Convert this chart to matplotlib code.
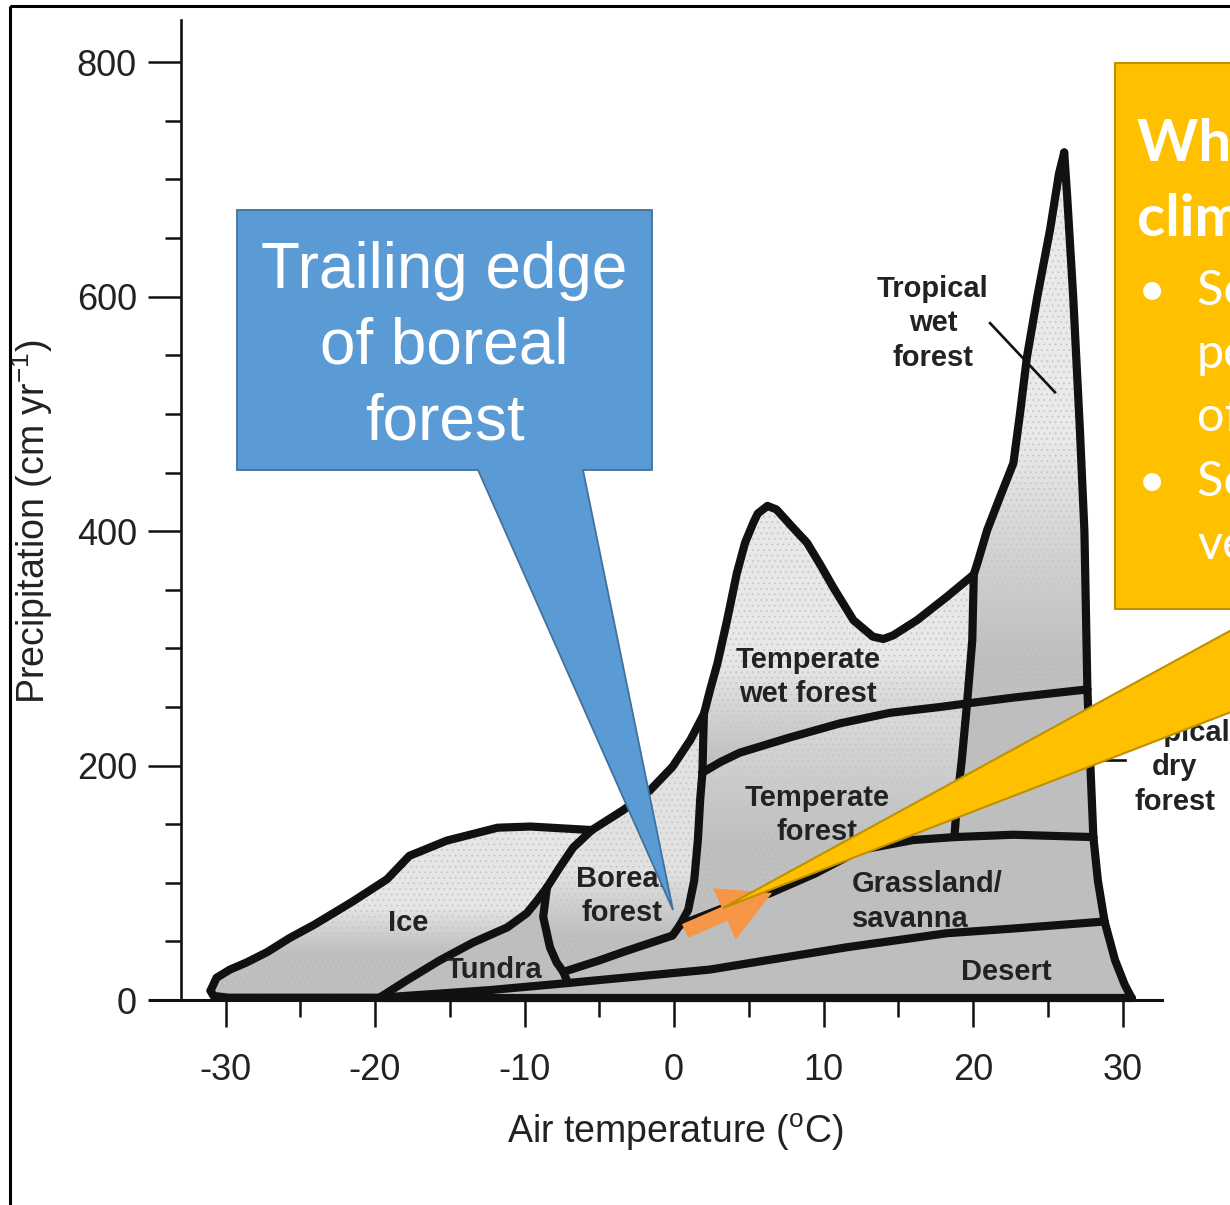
import numpy as np
import matplotlib
matplotlib.use("Agg")
import matplotlib.pyplot as plt
import matplotlib.transforms as mtransforms
from matplotlib.patches import Polygon, Rectangle, FancyArrow
from matplotlib.colors import LinearSegmentedColormap
from matplotlib.ticker import FixedLocator, MultipleLocator

plt.rcParams['font.family'] = ['Liberation Sans', 'DejaVu Sans']
plt.rcParams['mathtext.fontset'] = 'custom'
plt.rcParams['mathtext.rm'] = 'Liberation Sans'
plt.rcParams['mathtext.it'] = 'Liberation Sans:italic'
plt.rcParams['mathtext.bf'] = 'Liberation Sans:bold'
plt.rcParams['axes.unicode_minus'] = False
plt.rcParams['hatch.linewidth'] = 0.6

# ---------------- data: biome boundary lines (air temperature degC, precipitation cm/yr) -------------
ICE_BOTTOM = [(-19.7, 2), (-29.8, 2), (-30.8, 3.5), (-31.0, 8)]
ICE_TOP = [(-31.0, 8), (-30.6, 19), (-29.7, 26), (-28.6, 32), (-27.2, 41), (-25.7, 53), (-24.1, 64),
           (-21.5, 84), (-19.2, 103), (-17.7, 123), (-15.2, 136), (-11.8, 147), (-9.6, 148), (-5.5, 145)]
BOREAL_TOP = [(-5.5, 145), (-3.4, 162), (-1.6, 179), (-0.1, 199), (1.1, 222), (2.0, 244)]
TWET_TOP = [(2.0, 244), (2.4, 264), (2.9, 287), (3.55, 324), (4.2, 364), (4.75, 390), (5.3, 407),
            (5.6, 415), (6.25, 421.5), (6.85, 418.5), (7.1, 415), (7.95, 403), (8.9, 390), (9.8, 371),
            (10.65, 352), (12.0, 324), (13.3, 310), (14.0, 308), (14.65, 311), (16.25, 324),
            (18.25, 344), (20.05, 363)]
TROP_LEFT = [(20.05, 363), (20.3, 373), (20.95, 401), (21.8, 429), (22.7, 458), (23.15, 501),
             (23.6, 548), (24.3, 600), (25.15, 657), (25.75, 705), (26.1, 723)]
TROP_RIGHT_WET = [(26.1, 723), (26.3, 685), (26.7, 600), (27.15, 486), (27.45, 400), (27.65, 265)]
TROP_RIGHT_DRY = [(27.65, 265), (27.85, 200), (28.05, 139)]
TROP_RIGHT_GRASS = [(28.05, 139), (28.35, 102), (28.8, 67)]
TROP_RIGHT_DESERT = [(28.8, 67), (29.5, 34), (30.15, 13), (30.6, 2)]
DESERT_BOTTOM = [(30.6, 2), (-19.7, 2)]
VERT_WET = [(20.05, 363), (19.95, 307), (19.6, 253)]
VERT_DRY = [(19.6, 253), (19.25, 205), (18.95, 171), (18.75, 139)]
WET_DRY_TEMP = [(1.9, 194), (3.1, 203), (4.4, 211), (7.75, 224), (11.1, 236), (14.45, 245),
                (17.8, 250), (19.6, 253)]
WET_DRY_TROP = [(19.6, 253), (22.7, 258), (27.65, 265)]
BOREAL_RIGHT_WET = [(2.0, 244), (1.95, 220), (1.9, 194)]
BOREAL_RIGHT_TEMP = [(1.9, 194), (1.75, 171), (1.6, 137), (1.35, 102), (0.95, 77), (0.4, 64)]
BOREAL_BOTTOM = [(0.4, 64), (-0.1, 55), (-3.4, 41), (-4.95, 34), (-7.4, 24)]
BOREAL_LEFT = [(-8.5, 96), (-8.75, 71), (-8.3, 45), (-7.85, 32), (-7.4, 24)]
BOREAL_LEFT_LOW = [(-7.4, 24), (-7.1, 14.5)]
ICE_TUNDRA = [(-19.7, 2), (-17.85, 17), (-15.65, 34), (-13.45, 49), (-11.15, 62), (-9.85, 74),
              (-9.15, 85), (-8.5, 96)]
ICE_BOREAL = [(-8.5, 96), (-7.65, 113), (-6.75, 130), (-5.5, 145)]
DESERT_TOP_W = [(-19.7, 2), (-12.3, 8.5), (-7.1, 14.5)]
DESERT_TOP_E = [(-7.1, 14.5), (2.4, 26), (11.55, 45), (18.25, 57), (22.7, 61), (28.8, 67)]
GRASS_TOP_TEMP = [(0.4, 64), (3.4, 79), (6.4, 91), (9.45, 108), (12.45, 128), (16.0, 136.5), (18.75, 139)]
GRASS_TOP_TROP = [(18.75, 139), (22.7, 141), (28.05, 139)]

BIOME_NAMES = ["Tropical\nwet\nforest", "Temperate\nwet forest", "Temperate\nforest",
               "Boreal\nforest", "Ice", "Tundra", "Grassland/\nsavanna", "Desert",
               "Tropical\ndry\nforest"]

X_TICKS = [-30, -20, -10, 0, 10, 20, 30]
X_MINOR = [-25, -15, -5, 5, 15, 25]
Y_TICKS = [0, 200, 400, 600, 800]
X_LABEL = "Air temperature ($^{\\mathrm{o}}$C)"
Y_LABEL = "Precipitation (cm yr$^{-1}$)"

CALLOUT_BLUE = "Trailing edge\nof boreal\nforest"
CALLOUT_YELLOW_HEAD = ["What about", "climate change?"]
CALLOUT_YELLOW_BULLETS = ["Some populations", "persist", "of", "Some species", "very"]


def rev(line):
    return line[::-1]


ICE = ICE_BOTTOM + ICE_TOP + rev(ICE_BOREAL) + rev(ICE_TUNDRA)
TUNDRA = ICE_TUNDRA + BOREAL_LEFT + BOREAL_LEFT_LOW + rev(DESERT_TOP_W)
BOREAL = BOREAL_TOP + BOREAL_RIGHT_WET + BOREAL_RIGHT_TEMP + BOREAL_BOTTOM + rev(BOREAL_LEFT) + ICE_BOREAL
TEMP_WET = TWET_TOP + VERT_WET + rev(WET_DRY_TEMP) + rev(BOREAL_RIGHT_WET)
TEMP = WET_DRY_TEMP + VERT_DRY + rev(GRASS_TOP_TEMP) + rev(BOREAL_RIGHT_TEMP)
TROP_WET = TROP_LEFT + TROP_RIGHT_WET + rev(WET_DRY_TROP) + rev(VERT_WET)
TROP_DRY = WET_DRY_TROP + TROP_RIGHT_DRY + rev(GRASS_TOP_TROP) + rev(VERT_DRY)
GRASS = GRASS_TOP_TEMP + GRASS_TOP_TROP + TROP_RIGHT_GRASS + rev(DESERT_TOP_E) + rev(BOREAL_LEFT_LOW) + rev(BOREAL_BOTTOM)
DESERT = DESERT_TOP_W + DESERT_TOP_E + TROP_RIGHT_DESERT + DESERT_BOTTOM

LINES = [ICE_BOTTOM, ICE_TOP, BOREAL_TOP, TWET_TOP, TROP_LEFT, TROP_RIGHT_WET, TROP_RIGHT_DRY,
         TROP_RIGHT_GRASS, TROP_RIGHT_DESERT, DESERT_BOTTOM, VERT_WET, VERT_DRY, WET_DRY_TEMP,
         WET_DRY_TROP, BOREAL_RIGHT_WET, BOREAL_RIGHT_TEMP, BOREAL_BOTTOM, BOREAL_LEFT,
         BOREAL_LEFT_LOW, ICE_TUNDRA, ICE_BOREAL, DESERT_TOP_W, DESERT_TOP_E, GRASS_TOP_TEMP,
         GRASS_TOP_TROP]

# ---------------- figure ----------------
W, H = 1230, 1205
fig = plt.figure(figsize=(W / 100, H / 100), dpi=100)
fig.patch.set_facecolor('white')
PX = mtransforms.Affine2D().scale(1 / W, -1 / H).translate(0, 1) + fig.transFigure

ax_l, ax_r, ax_t, ax_b = 150, 1162, 20, 1005.9
ax = fig.add_axes([ax_l / W, 1 - ax_b / H, (ax_r - ax_l) / W, (ax_b - ax_t) / H])
XLIM = (-35.05, 32.64)
YLIM = (-5, 836)
ax.patch.set_alpha(0)

GREY = '#bebebe'
INK = '#111111'
TXT = '#222222'


def shade(verts, p_grey, p_light, light, z=1.0):
    poly = Polygon(verts, closed=True, facecolor='none', edgecolor='none', zorder=z)
    ax.add_patch(poly)
    ts = [v[0] for v in verts]
    ps = [v[1] for v in verts]
    lo, hi = min(ps), max(ps)
    ramp = np.clip((np.linspace(lo, hi, 200) - p_grey) / (p_light - p_grey), 0, 1)[:, None]
    cmap = LinearSegmentedColormap.from_list('ramp', [GREY, light])
    im = ax.imshow(ramp, extent=(min(ts), max(ts), lo, hi), origin='lower', aspect='auto',
                   cmap=cmap, vmin=0, vmax=1, interpolation='bilinear', zorder=z)
    im.set_clip_path(poly)
    dots = Polygon(verts, closed=True, facecolor='none', edgecolor='#c6c6c6', hatch='...',
                   lw=0, zorder=z + 0.2)
    ax.add_patch(dots)


for verts in (TUNDRA, GRASS, DESERT, TROP_DRY):
    ax.add_patch(Polygon(verts, closed=True, facecolor=GREY, edgecolor='none', zorder=1))

shade(ICE, 40, 80, '#e6e6e6')
shade(BOREAL, 55, 110, '#e2e2e2')
shade(TEMP_WET, 200, 290, '#e8e8e8')
shade(TEMP, 130, 235, '#d8d8d8')
shade(TROP_WET, 290, 480, '#eaeaea')

for line in LINES:
    ax.plot([p[0] for p in line], [p[1] for p in line], color=INK, lw=5.9,
            solid_capstyle='round', solid_joinstyle='round', zorder=3, clip_on=False)

# pointer lines for labels
ax.plot([21.14, 25.48], [577.4, 518.5], color=INK, lw=1.9, zorder=4)
ax.plot([28.49, 30.17], [204.7, 204.7], color=INK, lw=1.9, zorder=4, clip_on=False)

label_pos = [(17.32, 577.4, 'center'), (8.96, 275.5, 'center'), (9.57, 157.8, 'center'),
             (-3.51, 88.7, 'center'), (-17.79, 65.7, 'center'), (-12.04, 25.6, 'center'),
             (11.91, 84.0, 'left'), (22.21, 23.9, 'center'), (33.5, 198.7, 'center')]
for name, (t, p, ha) in zip(BIOME_NAMES, label_pos):
    ax.text(t, p, name, ha=ha, va='center', multialignment='center' if ha == 'center' else 'left',
            fontsize=21, fontweight='bold', color=TXT, linespacing=1.3, zorder=5)

ax.set_xlim(*XLIM)
ax.set_ylim(*YLIM)

# axes styling
for s in ['top', 'right']:
    ax.spines[s].set_visible(False)
ax.spines['left'].set_position(('data', -33))
ax.spines['left'].set_bounds(0, 836)
ax.spines['bottom'].set_position(('data', 0))
ax.spines['left'].set_linewidth(1.9)
ax.spines['bottom'].set_linewidth(2.2)
ax.spines['left'].set_color(INK)
ax.spines['bottom'].set_color(INK)

ax.set_xticks(X_TICKS)
ax.set_xticklabels([str(v) for v in X_TICKS])
ax.xaxis.set_minor_locator(FixedLocator(X_MINOR))
ax.set_yticks(Y_TICKS)
ax.set_yticklabels([str(v) for v in Y_TICKS])
ax.yaxis.set_minor_locator(MultipleLocator(50))
ax.tick_params(axis='x', which='major', direction='out', length=19.5, width=1.8, pad=18.5,
               labelsize=26, color=INK, labelcolor=TXT)
ax.tick_params(axis='x', which='minor', direction='out', length=12.5, width=1.8, color=INK)
ax.tick_params(axis='y', which='major', direction='out', length=23.5, width=1.8, pad=8,
               labelsize=26, color=INK, labelcolor=TXT)
ax.tick_params(axis='y', which='minor', direction='out', length=11.5, width=1.8, color=INK)

ax.set_xlabel(X_LABEL, fontsize=27, color=TXT)
ax.xaxis.set_label_coords((675 - ax_l) / (ax_r - ax_l), (ax_b - 1132) / (ax_b - ax_t))
ax.xaxis.label.set_va('center')
ax.set_ylabel(Y_LABEL, fontsize=27, color=TXT)
ax.yaxis.set_label_coords((32 - ax_l) / (ax_r - ax_l), (ax_b - 522) / (ax_b - ax_t))
ax.yaxis.label.set_va('center')

# ---------------- callouts (figure pixel space) ----------------
blue = Polygon([(237, 210), (652, 210), (652, 470), (583, 470), (673, 910), (478, 470), (237, 470)],
               closed=True, facecolor='#5B9BD5', edgecolor='#41719C', lw=1.3, transform=PX, zorder=10)
fig.add_artist(blue)
fig.text(444.5, 347, CALLOUT_BLUE, transform=PX, ha='center', va='center', fontsize=46,
         color='white', linespacing=1.34, zorder=11)

arrow = FancyArrow(685, 931, 87, -38, width=15, head_width=56, head_length=52,
                   length_includes_head=True, transform=PX, facecolor='#F79646',
                   edgecolor='none', zorder=12)
fig.add_artist(arrow)

yellow = Polygon([(1115, 63), (1700, 63), (1700, 609), (1498, 609), (723, 908), (1270, 609), (1115, 609)],
                 closed=True, facecolor='#FFC000', edgecolor='#BF9000', lw=1.5, transform=PX, zorder=13)
fig.add_artist(yellow)
for txt, yb in zip(CALLOUT_YELLOW_HEAD, [161, 235]):
    fig.text(1137, yb, txt, transform=PX, ha='left', va='baseline', fontsize=42,
             fontweight='bold', family=['Lato', 'DejaVu Sans'], color='white', zorder=14)
for i, (txt, yb) in enumerate(zip(CALLOUT_YELLOW_BULLETS, [305, 368, 431, 496, 559])):
    if i in (0, 3):
        fig.text(1138, yb, '\u2022', transform=PX, ha='left', va='baseline', fontsize=35,
                 family=['Lato', 'DejaVu Sans'], color='white', zorder=14)
    fig.text(1197, yb, txt, transform=PX, ha='left', va='baseline', fontsize=35,
             family=['Lato', 'DejaVu Sans'], color='white', zorder=14)

frame = Rectangle((9.5, 6), 2000, 2000, facecolor='none', edgecolor='black', lw=2.2,
                  transform=PX, zorder=20)
fig.add_artist(frame)

fig.savefig('out.png', dpi=100)
